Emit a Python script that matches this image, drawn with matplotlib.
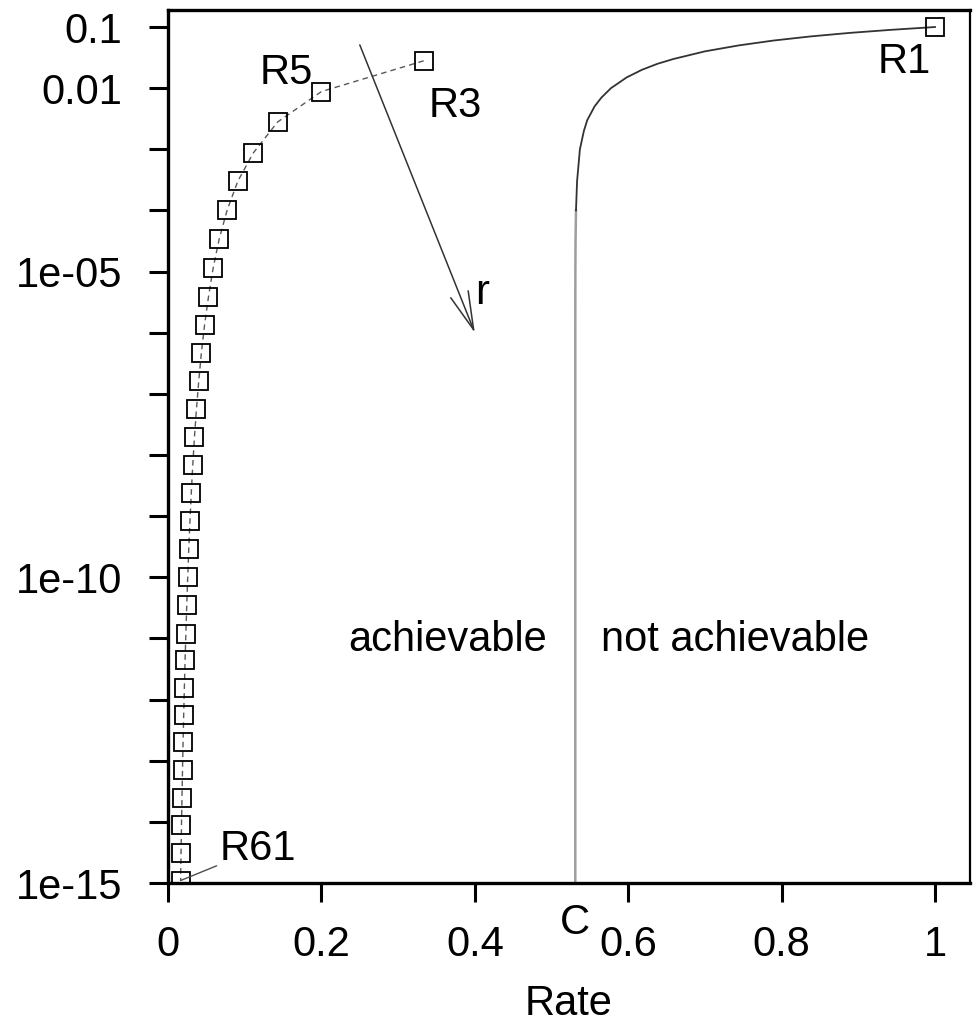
import matplotlib
matplotlib.use("Agg")
import matplotlib.pyplot as plt
import matplotlib.transforms as mtransforms

plt.rcParams["font.family"] = ["Liberation Sans", "DejaVu Sans"]
plt.rcParams["font.size"] = 30

# repetition codes R_N (rate = 1/N), bit error probability
code_len = [1, 3, 5, 7, 9, 11, 13, 15, 17, 19, 21, 23, 25, 27, 29, 31,
            33, 35, 37, 39, 41, 43, 45, 47, 49, 51, 53, 55, 57, 59, 61]
p_err = [0.1, 0.028, 0.0088, 0.0028, 8.7e-4, 3.0e-4, 1.0e-4, 3.4e-5,
         1.14e-5, 3.8e-6, 1.34e-6, 4.7e-7, 1.6e-7, 5.6e-8, 2.0e-8, 6.9e-9,
         2.4e-9, 8.3e-10, 2.9e-10, 1.0e-10, 3.5e-11, 1.2e-11, 4.4e-12,
         1.55e-12, 5.6e-13, 2.0e-13, 7.1e-14, 2.5e-14, 8.9e-15, 3.1e-15, 1.1e-15]
rates = [1.0 / n for n in code_len]

# achievable boundary (Shannon limit)
bound_pb = [1e-15, 1e-10, 1e-6, 1e-5, 3e-5, 1e-4, 3e-4, 1e-3, 2e-3, 3e-3,
            5e-3, 7e-3, 0.01, 0.015, 0.02, 0.025, 0.03, 0.04, 0.05, 0.06,
            0.07, 0.08, 0.09, 0.1]
bound_rate = [0.531, 0.531, 0.531, 0.5311, 0.5313, 0.5319, 0.5333, 0.537,
              0.5422, 0.5466, 0.5560, 0.5650, 0.5775, 0.598, 0.618, 0.638,
              0.659, 0.700, 0.744, 0.789, 0.837, 0.888, 0.943, 1.0]
cap = 0.531

ytick_vals = [10.0 ** (-k) for k in range(1, 16)]
ytick_text = ["0.1", "0.01", "", "", "1e-05", "", "", "", "", "1e-10",
              "", "", "", "", "1e-15"]
xtick_vals = [0, 0.2, 0.4, 0.6, 0.8, 1]
xtick_text = ["0", "0.2", "0.4", "0.6", "0.8", "1"]

fig = plt.figure(figsize=(9.73, 10.28), dpi=100)
ax = fig.add_axes([0.1727, 0.1410, 0.8242, 0.8493])

ax.set_yscale("log")
ax.set_xlim(0, 1.0456)
ax.set_ylim(1e-15, 0.19)

# Shannon bound: pale straight part, darker bend
ax.plot(bound_rate[:6], bound_pb[:6], color="0.62", lw=1.8)
ax.plot(bound_rate[5:], bound_pb[5:], color="0.2", lw=1.3)

# repetition codes
ax.plot(rates[1:], p_err[1:], ls=(0, (4, 3)), color="0.35", lw=1)
ax.plot(rates, p_err, ls="none", marker="s", ms=13, mfc="none",
        mec="black", mew=1.3)

ax.text(0.96, 0.027, "R1", ha="center", va="center")
ax.text(0.375, 0.0052, "R3", ha="center", va="center")
ax.text(0.154, 0.018, "R5", ha="center", va="center")
ax.annotate("R61", xy=(rates[-1], p_err[-1]), xytext=(0.067, 3.6e-15),
            ha="left", va="center",
            arrowprops=dict(arrowstyle="-", color="0.3", lw=1,
                            shrinkA=0, shrinkB=0))

ax.annotate("", xy=(0.40, 1.0e-6), xytext=(0.25, 0.051),
            arrowprops=dict(arrowstyle="->,head_length=1.1,head_width=0.27",
                            color="0.2", lw=1.1, mutation_scale=25,
                            shrinkA=0, shrinkB=0))
ax.text(0.41, 4.5e-6, "r", ha="center", va="center")

ax.text(0.365, 9.3e-12, "achievable", ha="center", va="center")
ax.text(0.739, 9.3e-12, "not achievable", ha="center", va="center")

trans = mtransforms.blended_transform_factory(ax.transData, ax.transAxes)
ax.text(cap + 0.0, -0.046, "C", transform=trans, ha="center", va="center")

ax.set_yticks(ytick_vals)
ax.set_yticklabels(ytick_text)
ax.yaxis.set_minor_locator(matplotlib.ticker.NullLocator())
ax.set_xticks(xtick_vals)
ax.set_xticklabels(xtick_text)
ax.tick_params(axis="both", direction="out", length=14, width=2.2)
ax.tick_params(axis="y", pad=19)
ax.tick_params(axis="x", pad=16)
ax.set_xlabel("Rate", labelpad=14)

for side in ["left", "bottom", "top"]:
    ax.spines[side].set_linewidth(2.4)
ax.spines["right"].set_linewidth(1.6)

fig.savefig("out.png", dpi=100)
